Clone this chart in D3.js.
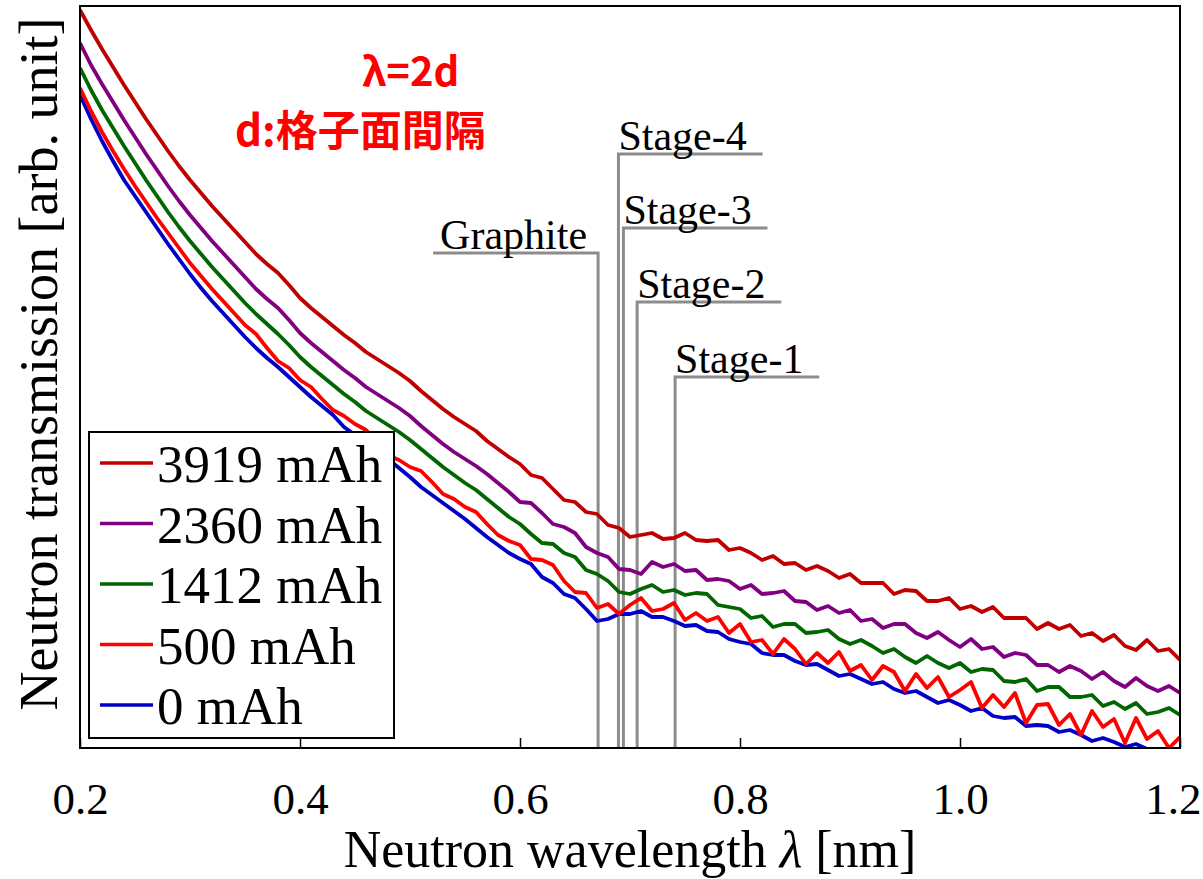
<!DOCTYPE html>
<html>
<head>
<meta charset="utf-8">
<script src="https://cdn.jsdelivr.net/npm/d3@7"></script>
<style>
  body { margin: 0; background: #fff; }
  svg { display: block; }
</style>
</head>
<body>
<div class="main"></div>
<script>
// sampling grid, 0.01 nm steps
const wavelength = d3.range(0, 101).map(i => +(0.2 + i * 0.01).toFixed(2));

// transmission, arb. unit
const mAh3919 = [73.8,71.8,69.9,68.1,66.3,64.6,62.9,61.3,59.7,58.2,
  56.8,55.5,54.2,53.0,51.8,50.6,49.4,48.4,47.5,46.3,
  45.0,44.0,43.1,42.2,41.3,40.5,39.6,38.9,38.2,37.5,
  36.7,35.7,34.8,33.9,33.1,32.4,31.7,30.7,29.9,29.1,
  28.4,27.3,27.0,25.9,24.8,24.6,23.6,23.4,22.3,22.0,
  21.1,21.3,21.5,20.9,21.0,21.5,20.8,20.7,20.8,19.8,
  20.0,19.5,18.8,19.2,18.4,18.5,17.8,18.2,17.7,17.0,
  17.4,16.5,16.5,16.5,15.4,15.8,15.7,14.7,14.7,15.0,
  13.9,14.2,13.6,14.1,13.0,13.0,13.0,11.9,12.5,11.9,
  12.3,11.2,11.5,10.7,11.3,10.2,9.8,10.8,9.7,9.9,
  8.8];
const mAh2360 = [70.5,68.3,66.4,64.6,62.8,61.1,59.4,57.8,56.2,54.7,
  53.3,52.0,50.7,49.5,48.3,47.1,45.9,44.9,44.0,42.8,
  41.5,40.5,39.6,38.7,37.8,37.0,36.1,35.4,34.7,34.0,
  33.2,32.2,31.3,30.4,29.6,28.9,28.2,27.4,26.5,25.6,
  24.6,24.5,23.5,22.4,22.1,21.5,20.1,19.5,19.1,17.9,
  17.8,17.4,18.6,18.1,18.4,17.7,17.8,16.8,16.9,16.7,
  15.9,16.3,15.4,15.5,15.7,14.7,14.6,13.8,14.2,13.5,
  13.8,12.7,12.9,12.0,12.4,12.4,11.5,11.0,11.6,10.8,
  10.1,10.9,9.9,10.1,9.1,9.5,9.3,8.3,8.3,7.6,
  8.2,7.7,6.9,7.6,6.7,6.1,7.0,6.2,5.7,6.2,
  5.5];
const mAh1412 = [68.0,65.8,63.8,62.0,60.2,58.5,56.8,55.2,53.6,52.1,
  50.7,49.4,48.1,46.9,45.7,44.5,43.4,42.4,41.4,40.3,
  39.1,38.1,37.2,36.3,35.4,34.6,33.7,33.0,32.3,31.6,
  30.8,29.9,29.0,28.1,27.3,26.5,25.8,24.9,24.0,23.1,
  22.4,21.4,20.5,20.4,19.5,19.1,17.8,17.4,16.7,15.6,
  15.4,15.9,16.3,15.6,15.8,15.3,15.5,15.4,14.3,14.1,
  13.9,13.0,13.2,12.1,12.4,12.4,11.5,11.6,11.8,10.9,
  10.4,10.8,10.2,9.5,9.9,9.1,8.5,9.2,8.5,8.0,
  8.5,7.6,7.9,7.8,6.7,6.6,6.9,5.7,6.1,6.1,
  5.1,5.1,5.3,4.2,4.6,3.9,4.5,3.4,3.6,4.0,
  3.3];
const mAh500 = [66.0,63.7,61.6,59.7,57.9,56.2,54.6,53.0,51.5,50.0,
  48.5,47.2,45.9,44.7,43.5,42.3,41.4,40.0,38.7,38.0,
  36.8,36.1,34.9,33.8,33.2,32.4,31.8,30.6,29.3,28.8,
  28.1,27.7,26.6,25.4,24.9,24.1,23.6,22.4,21.3,20.7,
  20.3,18.9,18.8,18.3,16.7,15.6,15.5,14.0,14.4,13.4,
  14.3,15.0,13.7,13.9,14.5,12.8,13.5,12.7,13.1,11.5,
  12.4,10.6,10.8,9.4,10.9,9.9,8.4,9.5,8.5,9.6,
  7.7,8.3,6.8,8.2,7.6,5.7,7.4,6.0,7.1,5.1,
  5.8,6.6,4.0,5.3,4.1,5.5,2.5,4.3,4.4,2.3,
  3.4,1.3,3.7,2.1,2.9,0.5,3.0,0.9,1.7,0.0,
  1.1];
const mAh0 = [65.3,62.9,60.7,58.7,56.8,55.2,53.6,52.0,50.4,48.9,
  47.4,46.0,44.7,43.5,42.3,41.1,40.0,39.0,38.1,37.1,
  36.1,35.1,34.2,33.3,32.1,31.3,30.5,29.7,28.9,28.0,
  27.1,26.1,25.3,24.5,23.7,22.9,22.0,21.1,20.3,19.5,
  18.9,18.4,17.1,16.5,15.4,15.0,13.9,12.7,12.9,13.4,
  13.4,13.7,13.1,13.1,12.7,12.2,12.3,11.7,11.6,10.9,
  10.6,10.4,9.5,9.3,9.3,8.7,8.3,8.4,7.8,7.2,
  7.4,6.9,6.4,6.6,5.9,5.5,5.7,5.1,4.5,4.8,
  4.3,3.7,4.0,3.2,3.0,3.1,2.2,2.3,2.2,1.6,
  1.8,1.3,0.7,1.0,0.6,0.1,0.4,-0.1,-0.2,-0.3,
  -0.4];

const seriesNames = ["3919 mAh", "2360 mAh", "1412 mAh", "500 mAh", "0 mAh"];
const seriesValues = [mAh3919, mAh2360, mAh1412, mAh500, mAh0];
const seriesColors = ["#c00000", "#800080", "#006600", "#ff0000", "#0000c8"];

const xTicks = [0.2, 0.4, 0.6, 0.8, 1.0, 1.2];

// Bragg edge markers: lambda = 2d
const markerNames = ["Graphite", "Stage-4", "Stage-3", "Stage-2", "Stage-1"];
const markerLambda = [0.671, 0.6895, 0.694, 0.7065, 0.741];
const markerLevel = [49.5, 59.4, 52.0, 44.6, 37.1];

const width = 1203, height = 879;
const serif = "'Liberation Serif', 'Times New Roman', serif";

const x = d3.scaleLinear().domain([0.2, 1.2]).range([80, 1180]);
const y = d3.scaleLinear().domain([0, 74.2]).range([748, 6]);

const svg = d3.select(".main").append("svg")
    .attr("width", width)
    .attr("height", height);

svg.append("defs").append("clipPath")
    .attr("id", "plot-clip")
  .append("rect")
    .attr("x", x(0.2)).attr("y", y(74.2))
    .attr("width", x(1.2) - x(0.2))
    .attr("height", y(0) - y(74.2));

// gray Bragg markers
const markers = svg.append("g").attr("class", "markers");
markerNames.forEach((name, i) => {
    const mx = x(markerLambda[i]);
    const my = y(markerLevel[i]);
    const left = name === "Graphite";
    const hx = left ? x(markerLambda[i] - 0.15) : x(markerLambda[i] + 0.131);
    markers.append("path")
        .attr("d", `M${hx},${my}H${mx}V${y(0)}`)
        .attr("fill", "none")
        .attr("stroke", "#8c8c8c")
        .attr("stroke-width", 3);
    markers.append("text")
        .attr("x", left ? hx + 7 : mx)
        .attr("y", my - 4)
        .attr("font-family", serif)
        .attr("font-size", 42)
        .attr("fill", "#000")
        .text(name);
});

// curves, last series first so the top ones sit above
const line = d3.line()
    .x((d, i) => x(wavelength[i]))
    .y(d => y(d));

const curves = svg.append("g").attr("clip-path", "url(#plot-clip)");
for (let s = seriesValues.length - 1; s >= 0; s--) {
    curves.append("path")
        .datum(seriesValues[s])
        .attr("d", line)
        .attr("fill", "none")
        .attr("stroke", seriesColors[s])
        .attr("stroke-width", 3.8)
        .attr("stroke-linejoin", "round");
}

// frame and inward ticks
svg.append("rect")
    .attr("x", x(0.2)).attr("y", y(74.2))
    .attr("width", x(1.2) - x(0.2))
    .attr("height", y(0) - y(74.2))
    .attr("fill", "none")
    .attr("stroke", "#000")
    .attr("stroke-width", 2);

const xAxis = d3.axisBottom(x)
    .tickValues(xTicks)
    .tickSizeInner(-10)
    .tickSizeOuter(0)
    .tickFormat(d3.format(".1f"));

const gx = svg.append("g")
    .attr("transform", `translate(0,${y(0)})`)
    .call(xAxis);
gx.select(".domain").remove();
gx.selectAll(".tick line").attr("stroke", "#000").attr("stroke-width", 1.5);
gx.selectAll(".tick text")
    .attr("y", 66)
    .attr("dy", 0)
    .attr("font-family", serif)
    .attr("font-size", 45)
    .attr("fill", "#000");
gx.selectAll(".tick text").filter(d => d === 1.2)
    .attr("text-anchor", "end")
    .attr("x", 1201 - x(1.2));

// axis titles
const xTitle = svg.append("text")
    .attr("x", (x(0.2) + x(1.2)) / 2)
    .attr("y", 867)
    .attr("text-anchor", "middle")
    .attr("font-family", serif)
    .attr("font-size", 52)
    .attr("fill", "#000");
xTitle.append("tspan").text("Neutron wavelength ");
xTitle.append("tspan").attr("font-style", "italic").text("λ");
xTitle.append("tspan").text(" [nm]");

svg.append("text")
    .attr("transform", "translate(57,364) rotate(-90)")
    .attr("text-anchor", "middle")
    .attr("font-family", serif)
    .attr("font-size", 54)
    .attr("fill", "#000")
    .text("Neutron transmission [arb. unit]");

// red notes
const note = svg.append("g")
    .attr("font-family", "'Noto Sans CJK JP', 'Noto Sans', sans-serif")
    .attr("font-weight", "bold")
    .attr("fill", "#ff0000");
note.append("text").attr("x", 362).attr("y", 86).attr("font-size", 40).text("λ=2d");
note.append("text").attr("x", 235).attr("y", 146).attr("font-size", 42).text("d:格子面間隔");

// legend
const legend = svg.append("g").attr("class", "legend");
legend.append("rect")
    .attr("x", 89).attr("y", 432)
    .attr("width", 305).attr("height", 306)
    .attr("fill", "#fff")
    .attr("stroke", "#000")
    .attr("stroke-width", 2);

seriesNames.forEach((name, i) => {
    const ly = 463 + i * 60.5;
    legend.append("line")
        .attr("x1", 100).attr("x2", 153)
        .attr("y1", ly).attr("y2", ly)
        .attr("stroke", seriesColors[i])
        .attr("stroke-width", 3.5);
    legend.append("text")
        .attr("x", 157)
        .attr("y", ly + 19)
        .attr("font-family", serif)
        .attr("font-size", 53)
        .attr("fill", "#000")
        .text(name);
});
</script>
</body>
</html>
